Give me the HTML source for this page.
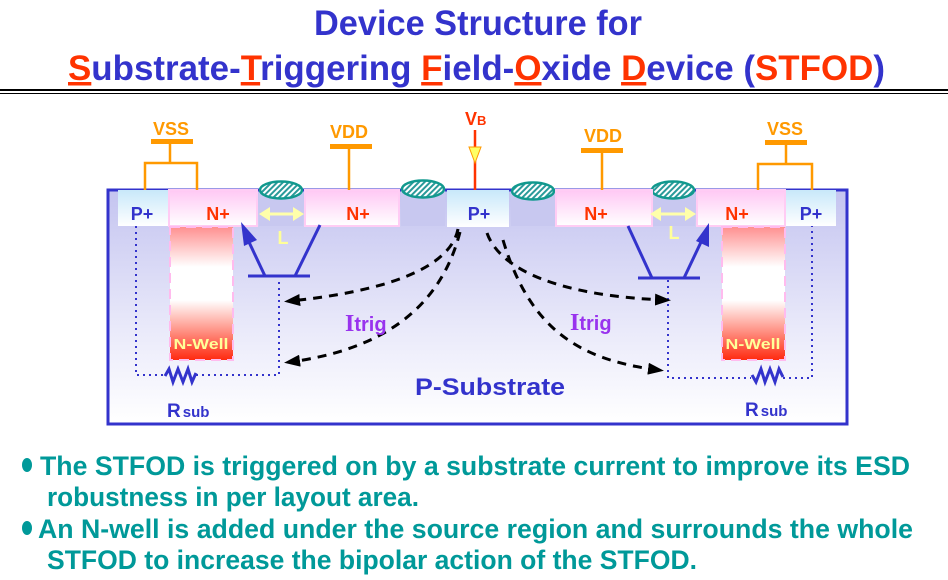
<!DOCTYPE html>
<html><head><meta charset="utf-8"><style>
html,body{margin:0;padding:0;background:#fff;}
svg{display:block;}
text{font-family:"Liberation Sans",Arial,sans-serif;font-weight:bold;}
</style></head><body>
<svg width="948" height="580" viewBox="0 0 948 580" xmlns="http://www.w3.org/2000/svg">
<defs>
<linearGradient id="sub" x1="0" y1="0" x2="0" y2="1"><stop offset="0" stop-color="#c4c4f0"/><stop offset="0.6" stop-color="#eaeafa"/><stop offset="1" stop-color="#ffffff"/></linearGradient>
<linearGradient id="pp" x1="0" y1="0" x2="0" y2="1"><stop offset="0" stop-color="#c8e8fa"/><stop offset="1" stop-color="#ffffff"/></linearGradient>
<linearGradient id="np" x1="0" y1="0" x2="0" y2="1"><stop offset="0" stop-color="#ffc8f4"/><stop offset="1" stop-color="#ffffff"/></linearGradient>
<linearGradient id="nw" x1="0" y1="0" x2="0" y2="1"><stop offset="0" stop-color="#ff9090"/><stop offset="0.3" stop-color="#ffffff"/><stop offset="0.55" stop-color="#ffffff"/><stop offset="1" stop-color="#ff2a10"/></linearGradient>
<pattern id="hatch" width="4" height="4" patternUnits="userSpaceOnUse" patternTransform="rotate(45)"><rect width="4" height="4" fill="#fff"/><rect width="2" height="4" fill="#2a9a9a"/></pattern>
<marker id="ah" markerWidth="16" markerHeight="12" refX="10" refY="6" orient="auto" markerUnits="userSpaceOnUse"><path d="M0,0 L16,6 L0,12 Z" fill="#000"/></marker>
</defs>

<!-- title -->
<text x="478" y="35" font-size="35" fill="#3333cc" text-anchor="middle" textLength="328" lengthAdjust="spacingAndGlyphs">Device Structure for</text>
<text x="68" y="80" font-size="35" fill="#3333cc" textLength="817" lengthAdjust="spacingAndGlyphs"><tspan fill="#ff3300" text-decoration="underline">S</tspan>ubstrate-<tspan fill="#ff3300" text-decoration="underline">T</tspan>riggering <tspan fill="#ff3300" text-decoration="underline">F</tspan>ield-<tspan fill="#ff3300" text-decoration="underline">O</tspan>xide <tspan fill="#ff3300" text-decoration="underline">D</tspan>evice (<tspan fill="#ff3300">STFOD</tspan>)</text>
<rect x="0" y="89" width="948" height="2" fill="#000"/>
<rect x="0" y="93" width="948" height="1" fill="#000"/>

<!-- substrate -->
<rect x="108" y="190" width="739" height="234" fill="url(#sub)" stroke="#3333cc" stroke-width="3"/>

<g stroke="#11998e" stroke-width="2.5">
<rect x="259" y="190" width="44" height="36" fill="#c8c8f0" stroke="none"/>
<rect x="401" y="190" width="44" height="36" fill="#c8c8f0" stroke="none"/>
<rect x="511" y="190" width="44" height="36" fill="#c8c8f0" stroke="none"/>
<rect x="651" y="190" width="44" height="36" fill="#c8c8f0" stroke="none"/>
<ellipse cx="281" cy="190" rx="21" ry="8.5" fill="url(#hatch)"/>
<ellipse cx="423" cy="189" rx="21" ry="8.5" fill="url(#hatch)"/>
<ellipse cx="533" cy="191" rx="21" ry="8.5" fill="url(#hatch)"/>
<ellipse cx="673" cy="190" rx="21" ry="8.5" fill="url(#hatch)"/>
</g>

<rect x="118" y="190" width="50" height="36" fill="url(#pp)"/>
<rect x="169" y="190" width="88" height="36" fill="url(#np)" stroke="#ffccf4" stroke-width="2"/>
<rect x="305" y="190" width="94" height="36" fill="url(#np)" stroke="#ffccf4" stroke-width="2"/>
<rect x="447" y="190" width="62" height="37" fill="url(#pp)"/>
<rect x="556" y="190" width="96" height="36" fill="url(#np)" stroke="#ffccf4" stroke-width="2"/>
<rect x="697" y="190" width="88" height="36" fill="url(#np)" stroke="#ffccf4" stroke-width="2"/>
<rect x="786" y="190" width="50" height="36" fill="url(#pp)"/>

<rect x="170" y="227" width="63" height="133" fill="url(#nw)" stroke="#ffbbee" stroke-width="2" stroke-dasharray="10,6"/>
<rect x="722" y="227" width="63" height="133" fill="url(#nw)" stroke="#ffbbee" stroke-width="2" stroke-dasharray="10,6"/>
<text x="201" y="349" font-size="15" fill="#ffff99" text-anchor="middle" font-weight="normal" textLength="55" lengthAdjust="spacingAndGlyphs">N-Well</text>
<text x="753" y="349" font-size="15" fill="#ffff99" text-anchor="middle" font-weight="normal" textLength="55" lengthAdjust="spacingAndGlyphs">N-Well</text>

<g font-size="18" text-anchor="middle">
<text x="142" y="220" fill="#3333cc">P+</text>
<text x="218" y="220" fill="#ff3300">N+</text>
<text x="358" y="220" fill="#ff3300">N+</text>
<text x="479" y="220" fill="#3333cc">P+</text>
<text x="596" y="220" fill="#ff3300">N+</text>
<text x="737" y="220" fill="#ff3300">N+</text>
<text x="811" y="220" fill="#3333cc">P+</text>
</g>

<g stroke="#ff9900" stroke-width="2.5" fill="none">
<path d="M170,141 V163 M145,190 V163 H197 V190"/>
<path d="M349,146 V190"/>
<path d="M602,150 V190"/>
<path d="M786,142 V164 M758,190 V164 H812 V190"/>
</g>
<g fill="#ff9900">
<rect x="151" y="139" width="42" height="5"/>
<rect x="330" y="144" width="42" height="5"/>
<rect x="581" y="148" width="42" height="5"/>
<rect x="765" y="140" width="42" height="5"/>
</g>
<g font-size="18" fill="#ff9900" text-anchor="middle">
<text x="171" y="135">VSS</text>
<text x="349" y="138">VDD</text>
<text x="603" y="142">VDD</text>
<text x="785" y="135">VSS</text>
</g>
<line x1="475" y1="130" x2="475" y2="190" stroke="#ff3300" stroke-width="2.5"/>
<path d="M469,147 L481,147 L475,163 Z" fill="#ffff66" stroke="#ff9900" stroke-width="1"/>
<text x="465" y="125" font-size="18" fill="#ff3300">V<tspan font-size="13">B</tspan></text>

<g stroke="#ffffaa" stroke-width="3" fill="#ffffaa">
<line x1="263" y1="214" x2="300" y2="214"/>
<path d="M259,214 L270,207 L270,221 Z" stroke="none"/><path d="M304,214 L293,207 L293,221 Z" stroke="none"/>
<line x1="654" y1="214" x2="692" y2="214"/>
<path d="M650,214 L661,207 L661,221 Z" stroke="none"/><path d="M696,214 L685,207 L685,221 Z" stroke="none"/>
</g>
<text x="283" y="244" font-size="18" fill="#ffff99" text-anchor="middle">L</text>
<text x="674" y="239" font-size="18" fill="#ffff99" text-anchor="middle">L</text>

<g stroke="#3333cc" stroke-width="3" fill="#3333cc">
<line x1="248" y1="276" x2="310" y2="276"/>
<line x1="265" y1="276" x2="248" y2="240"/>
<path d="M241,222 L257,240 L244,246 Z" stroke="none"/>
<line x1="295" y1="276" x2="320" y2="225"/>
<line x1="638" y1="278" x2="700" y2="278"/>
<line x1="652" y1="278" x2="628" y2="226"/>
<line x1="684" y1="278" x2="702" y2="240"/>
<path d="M709,223 L709,247 L696,241 Z" stroke="none"/>
</g>

<g stroke="#3333cc" stroke-width="2" fill="none" stroke-dasharray="2,4">
<path d="M136,226 V375 H164 M196,375 H279 V278"/>
<path d="M668,280 V378 H751 M783,378 H812 V226"/>
</g>
<g stroke="#3333cc" stroke-width="3" fill="none">
<path d="M165,376 L169,369 L173,382 L178,369 L183,382 L188,369 L192,382 L196,373"/>
<path d="M752,375 L756,382 L761,369 L765,382 L770,369 L775,382 L779,369 L783,377"/>
</g>
<text x="167" y="417" font-size="19" fill="#3333cc">R<tspan font-size="15" dx="2">sub</tspan></text>
<text x="745" y="416" font-size="19" fill="#3333cc">R<tspan font-size="15" dx="2">sub</tspan></text>

<g stroke="#000" stroke-width="3" fill="none" stroke-dasharray="9,7" marker-end="url(#ah)">
<path d="M458,229 C450,270 380,292 290,301"/>
<path d="M460,232 C440,310 380,350 290,362"/>
<path d="M487,233 C500,270 560,296 665,300"/>
<path d="M503,240 C530,330 580,360 658,370"/>
</g>
<text x="345" y="331" font-size="20" fill="#9933ee"><tspan font-family="Liberation Serif" font-size="24">I</tspan>trig</text>
<text x="570" y="330" font-size="20" fill="#9933ee"><tspan font-family="Liberation Serif" font-size="24">I</tspan>trig</text>
<text x="490" y="395" font-size="24" fill="#3333cc" text-anchor="middle" textLength="150" lengthAdjust="spacingAndGlyphs">P-Substrate</text>

<g font-size="27" fill="#009999">
<ellipse cx="27" cy="465" rx="5" ry="7"/>
<text x="40" y="475" textLength="870" lengthAdjust="spacingAndGlyphs">The STFOD is triggered on by a substrate current to improve its ESD</text>
<text x="47" y="506" textLength="372" lengthAdjust="spacingAndGlyphs">robustness in per layout area.</text>
<ellipse cx="27" cy="528" rx="5" ry="7"/>
<text x="38" y="538" textLength="875" lengthAdjust="spacingAndGlyphs">An N-well is added under the source region and surrounds the whole</text>
<text x="47" y="569" textLength="650" lengthAdjust="spacingAndGlyphs">STFOD to increase the bipolar action of the STFOD.</text>
</g>
</svg>
</body></html>
